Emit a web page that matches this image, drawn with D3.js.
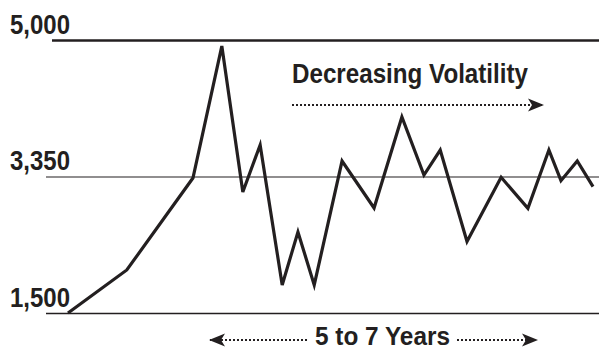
<!DOCTYPE html>
<html>
<head>
<meta charset="utf-8">
<script src="https://cdn.jsdelivr.net/npm/d3@7"></script>
<style>
  body { margin: 0; background: #fff; }
  svg text { font-family: "Liberation Sans Narrow", "Arial Narrow", "Liberation Sans", sans-serif; font-weight: bold; fill: #231f20; }
</style>
</head>
<body>
<svg id="chart" width="599" height="351"></svg>
<script>
// time axis (arbitrary units, 0..100) and index level
var times  = [0, 11.2, 23.8, 29.3, 33.3, 36.6, 40.8, 43.8, 46.9, 52.2, 58.3, 63.6, 67.8, 70.9, 76.0, 82.5, 87.6, 91.6, 93.9, 97.0, 100];
var levels = [1500, 2083, 3330, 4927, 3140, 3731, 1880, 2598, 1880, 3537, 2923, 4069, 3368, 3670, 2469, 3339, 2919, 3670, 3293, 3537, 3212];
var tickValues = [1500, 3350, 5000];
var tickLabels = ["1,500", "3,350", "5,000"];
var topLabel = "Decreasing Volatility";
var bottomLabel = "5 to 7 Years";

var svg = d3.select("svg#chart"),
    ink = "#231f20";

var x = d3.scaleLinear()
    .domain([0, 100])
    .range([68, 593]);

// the three guide levels are drawn evenly spaced
var y = d3.scaleLinear()
    .domain([1500, 3350, 5000])
    .range([313, 176.5, 40]);

var data = times.map(function(t, i) { return {t: t, v: levels[i]}; });

// arrowheads
var defs = svg.append("defs");
defs.append("marker")
    .attr("id", "head")
    .attr("viewBox", "0 -7 16 14")
    .attr("refX", 15)
    .attr("refY", 0)
    .attr("markerWidth", 16)
    .attr("markerHeight", 14)
    .attr("markerUnits", "userSpaceOnUse")
    .attr("orient", "auto")
  .append("path")
    .attr("d", "M0,-6.5L16,0L0,6.5L4,0Z")
    .attr("fill", ink);

// y axis as guide lines with labels above them
var axis = svg.append("g")
    .attr("transform", "translate(46,0)")
    .call(d3.axisLeft(y).tickValues(tickValues).tickSize(-553)
      .tickFormat(function(d, i) { return tickLabels[i]; }));

axis.select(".domain").remove();
axis.selectAll(".tick line")
    .attr("stroke", ink)
    .attr("stroke-width", function(d) { return d == 5000 ? 2.5 : d == 3350 ? 1.2 : 1.5; })
    .attr("x1", function(d) { return d == 5000 ? 6 : 0; });
axis.selectAll(".tick text")
    .attr("x", -36)
    .attr("y", -7)
    .attr("dy", 0)
    .attr("text-anchor", "start")
    .attr("font-size", 28)
    .attr("textLength", 60)
    .attr("lengthAdjust", "spacingAndGlyphs")
    .attr("fill", ink);

// price line
svg.append("path")
    .datum(data)
    .attr("fill", "none")
    .attr("stroke", ink)
    .attr("stroke-width", 3.2)
    .attr("stroke-linejoin", "miter")
    .attr("d", d3.line()
      .x(function(d) { return x(d.t); })
      .y(function(d) { return y(d.v); }));

// annotation: decreasing volatility
svg.append("text")
    .attr("x", 292)
    .attr("y", 83)
    .attr("font-size", 28)
    .attr("textLength", 236)
    .attr("lengthAdjust", "spacingAndGlyphs")
    .text(topLabel);

svg.append("line")
    .attr("x1", 292).attr("x2", 543)
    .attr("y1", 105).attr("y2", 105)
    .attr("stroke", ink)
    .attr("stroke-width", 2)
    .attr("stroke-dasharray", "2,2")
    .attr("marker-end", "url(#head)");

// annotation: 5 to 7 years
svg.append("text")
    .attr("x", 315)
    .attr("y", 345)
    .attr("font-size", 25)
    .attr("textLength", 135)
    .attr("lengthAdjust", "spacingAndGlyphs")
    .text(bottomLabel);

svg.append("line")
    .attr("x1", 307).attr("x2", 210)
    .attr("y1", 340).attr("y2", 340)
    .attr("stroke", ink)
    .attr("stroke-width", 2)
    .attr("stroke-dasharray", "2,2")
    .attr("marker-end", "url(#head)");

svg.append("line")
    .attr("x1", 457).attr("x2", 537)
    .attr("y1", 340).attr("y2", 340)
    .attr("stroke", ink)
    .attr("stroke-width", 2)
    .attr("stroke-dasharray", "2,2")
    .attr("marker-end", "url(#head)");
</script>
</body>
</html>
